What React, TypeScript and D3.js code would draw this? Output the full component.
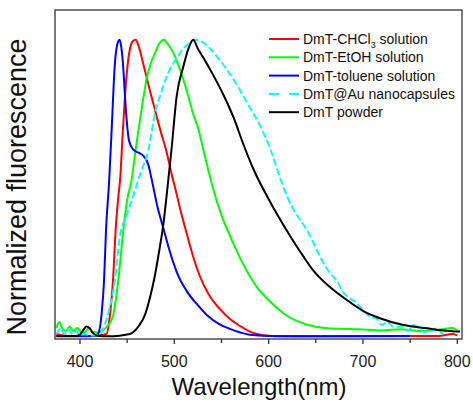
import React from "react";
import * as d3 from "d3";

// ---- Data (wavelength in nm, normalized intensity) ----
const redWl = [375, 390, 410, 420, 428, 432, 435, 437.8, 440, 443, 445, 447.7, 450, 453, 456, 459, 462, 467, 474, 479, 484.8, 492, 497, 502.5, 507, 513, 520, 527, 537, 548, 559, 570, 577, 594, 620, 700, 780, 795, 800];
const redVal = [0.01, 0.003, 0.003, 0.005, 0.01, 0.08, 0.19, 0.36, 0.45, 0.55, 0.67, 0.81, 0.9, 0.97, 0.995, 1.0, 0.98, 0.92, 0.83, 0.77, 0.7, 0.62, 0.55, 0.48, 0.42, 0.35, 0.27, 0.205, 0.14, 0.095, 0.06, 0.036, 0.023, 0.006, 0.002, 0.002, 0.003, 0.01, 0.005];

const greenWl = [375, 378, 381, 385, 389, 393, 397, 401, 405, 409, 413, 418, 423, 430, 435, 440.6, 446, 450, 454.8, 459, 463.6, 467, 470.7, 475, 479.5, 484.8, 489, 492, 499, 506, 513, 520, 525.5, 530, 535, 541, 550, 561, 573, 587, 601.5, 619, 640, 665, 686, 700, 720, 740, 760, 780, 795, 800];
const greenVal = [0.03, 0.05, 0.03, 0.02, 0.035, 0.02, 0.03, 0.018, 0.015, 0.028, 0.018, 0.015, 0.02, 0.04, 0.07, 0.19, 0.36, 0.46, 0.53, 0.63, 0.73, 0.8, 0.87, 0.92, 0.955, 0.99, 1.0, 0.99, 0.955, 0.9, 0.83, 0.75, 0.7, 0.64, 0.575, 0.5, 0.41, 0.326, 0.245, 0.17, 0.119, 0.072, 0.042, 0.028, 0.027, 0.025, 0.022, 0.026, 0.02, 0.024, 0.03, 0.022];

const blueWl = [375, 400, 414, 419, 423, 425.5, 427.6, 431, 433.6, 437, 440.6, 442, 444, 446, 447.7, 449.5, 452, 456.5, 462, 467, 472.4, 476, 482, 488, 495, 503, 513, 524, 535, 548, 559, 570, 580, 600, 650, 750];
const blueVal = [0.002, 0.002, 0.003, 0.01, 0.08, 0.19, 0.36, 0.53, 0.7, 0.92, 0.995, 1.0, 0.97, 0.9, 0.81, 0.73, 0.66, 0.63, 0.62, 0.61, 0.58, 0.53, 0.44, 0.37, 0.29, 0.215, 0.155, 0.11, 0.072, 0.042, 0.027, 0.015, 0.007, 0.003, 0.002, 0.003];

const cyanWl = [375, 380, 383, 388, 392, 396, 400, 405, 410, 415, 421, 426, 430, 437, 442, 449.5, 455, 462, 467, 472, 476, 480, 484.8, 490, 495.4, 501, 506, 511, 516.6, 522, 528, 533, 538, 546, 555.6, 566, 576.7, 591, 601.5, 612, 620, 630, 638.6, 647, 654.5, 665, 672, 679, 686, 693, 700, 707.5, 715, 720, 726, 732, 740, 748, 753, 760, 765, 771, 778, 784, 789];
const cyanVal = [0.01, 0.03, 0.01, 0.025, 0.008, 0.02, 0.005, 0.01, 0.005, 0.005, 0.01, 0.04, 0.08, 0.19, 0.33, 0.41, 0.46, 0.53, 0.575, 0.62, 0.69, 0.76, 0.81, 0.86, 0.9, 0.93, 0.955, 0.975, 0.99, 1.0, 0.995, 0.985, 0.97, 0.94, 0.9, 0.85, 0.79, 0.71, 0.635, 0.535, 0.47, 0.41, 0.37, 0.32, 0.27, 0.215, 0.19, 0.15, 0.13, 0.115, 0.09, 0.068, 0.06, 0.04, 0.05, 0.034, 0.035, 0.02, 0.04, 0.03, 0.015, 0.018, 0.03, 0.012, 0.02];

const blackWl = [375, 395, 400, 404, 407, 410, 414, 420, 430, 440, 448, 455, 463, 469, 474, 479, 484, 488, 493.6, 497, 502.5, 509.6, 515, 520, 525, 530.7, 541.4, 552, 562.6, 573, 583.8, 601.5, 616, 637, 647, 665, 683, 700, 718, 743, 768, 785, 803];
const blackVal = [0.003, 0.003, 0.008, 0.025, 0.035, 0.03, 0.012, 0.003, 0.002, 0.003, 0.007, 0.013, 0.04, 0.075, 0.13, 0.2, 0.29, 0.37, 0.528, 0.63, 0.81, 0.91, 0.97, 1.0, 0.97, 0.94, 0.88, 0.815, 0.74, 0.65, 0.565, 0.455, 0.375, 0.27, 0.225, 0.168, 0.124, 0.088, 0.063, 0.04, 0.029, 0.022, 0.018];

const seriesNames = ["DmT-CHCl3 solution", "DmT-EtOH solution", "DmT-toluene solution", "DmT@Au nanocapsules", "DmT powder"];
const xTicks = [400, 500, 600, 700, 800];
const xMinorTicks = [450, 550, 650, 750];

const series = [
  { name: seriesNames[0], wl: redWl, val: redVal, color: "#ff0000", dash: null },
  { name: seriesNames[1], wl: greenWl, val: greenVal, color: "#00ff00", dash: null },
  { name: seriesNames[2], wl: blueWl, val: blueVal, color: "#0000ff", dash: null },
  { name: seriesNames[3], wl: cyanWl, val: cyanVal, color: "#00ffff", dash: "7 3" },
  { name: seriesNames[4], wl: blackWl, val: blackVal, color: "#000000", dash: null },
];

const W = 473;
const H = 402;
const left = 55;
const right = 462;
const top = 10;
const bottom = 339;

export default function App() {
  const x = d3.scaleLinear().domain([373.5, 805]).range([left, right]);
  const y = d3.scaleLinear().domain([-0.007, 1.1]).range([bottom, top]);
  const line = d3
    .line<[number, number]>()
    .x((d) => x(d[0]))
    .y((d) => y(d[1]))
    .curve(d3.curveMonotoneX);

  const font = "'Liberation Sans', Arial, sans-serif";
  const legendX1 = 269;
  const legendX2 = 299;
  const legendY0 = 39;
  const legendDy = 18.3;

  return (
    <svg
      width={W}
      height={H}
      style={{ position: "absolute", left: 0, top: 0, background: "#fff" }}
      fontFamily={font}
    >
      <defs>
        <clipPath id="plotClip">
          <rect x={left} y={top} width={right - left} height={bottom - top} />
        </clipPath>
      </defs>
      <rect x={0} y={0} width={W} height={H} fill="#fff" />
      <g clipPath="url(#plotClip)">
        {series.map((s) => (
          <path
            key={s.name}
            d={line(s.wl.map((w, i) => [w, s.val[i]] as [number, number])) || ""}
            fill="none"
            stroke={s.color}
            strokeWidth={2}
            strokeDasharray={s.dash || undefined}
            strokeLinejoin="round"
          />
        ))}
      </g>
      {/* frame */}
      <rect
        x={left}
        y={top}
        width={right - left}
        height={bottom - top}
        fill="none"
        stroke="#333"
        strokeWidth={1.3}
      />
      {/* x ticks */}
      {xTicks.map((t) => (
        <g key={"t" + t}>
          <line x1={x(t)} x2={x(t)} y1={bottom} y2={bottom + 5} stroke="#333" strokeWidth={1.3} />
          <text x={x(t)} y={366.5} textAnchor="middle" fontSize={16} fill="#222">
            {t}
          </text>
        </g>
      ))}
      {xMinorTicks.map((t) => (
        <line key={"m" + t} x1={x(t)} x2={x(t)} y1={bottom} y2={bottom + 4} stroke="#333" strokeWidth={1.3} />
      ))}
      {/* axis titles */}
      <text x={259} y={395} textAnchor="middle" fontSize={24} fill="#111">
        Wavelength(nm)
      </text>
      <text
        transform={`translate(26,187) rotate(-90)`}
        textAnchor="middle"
        fontSize={27}
        fill="#111"
      >
        Normalized fluorescence
      </text>
      {/* legend */}
      {series.map((s, i) => {
        const ly = legendY0 + i * legendDy;
        return (
          <g key={"lg" + i}>
            <line
              x1={legendX1}
              x2={legendX2}
              y1={ly}
              y2={ly}
              stroke={s.color}
              strokeWidth={2}
              strokeDasharray={s.dash ? "10 10" : undefined}
            />
            <text x={303} y={ly + 5} fontSize={14} fill="#111">
              {i === 0 ? (
                <>
                  DmT-CHCl
                  <tspan fontSize={9} dy={4}>3</tspan>
                  <tspan dy={-4}> solution</tspan>
                </>
              ) : (
                s.name
              )}
            </text>
          </g>
        );
      })}
    </svg>
  );
}
